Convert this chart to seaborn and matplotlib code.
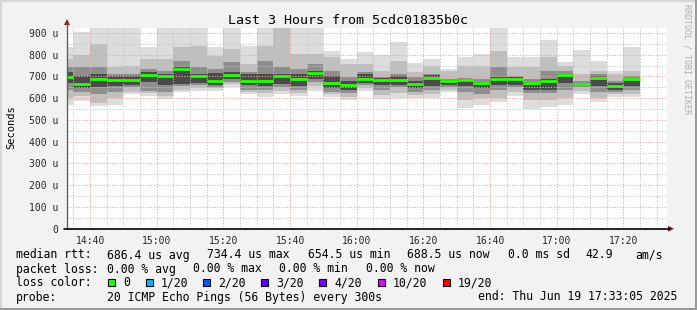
import numpy as np
import pandas as pd
import matplotlib
matplotlib.use("Agg")
import matplotlib.pyplot as plt
import seaborn as sns
from matplotlib.patches import Rectangle, Polygon
from matplotlib.lines import Line2D

# ---------------- data ----------------
bar_start = ["14:30", "14:35", "14:40", "14:45", "14:50", "14:55", "15:00", "15:05",
             "15:10", "15:15", "15:20", "15:25", "15:30", "15:35", "15:40", "15:45",
             "15:50", "15:55", "16:00", "16:05", "16:10", "16:15", "16:20", "16:25",
             "16:30", "16:35", "16:40", "16:45", "16:50", "16:55", "17:00", "17:05",
             "17:10", "17:15", "17:20"]
median = [696, 665, 688, 684, 686, 709, 702, 734, 703, 681, 706, 681, 681, 700, 689, 716,
          671, 661, 689, 686, 685, 665, 694, 678, 684, 668, 687, 687, 668, 681, 706, 664,
          692, 655, 688]
outer_lo = [569, 587, 566, 570, 619, 612, 596, 627, 635, 635, 650, 619, 604, 619, 608, 635,
            604, 592, 632, 598, 602, 600, 602, 628, 555, 570, 584, 608, 550, 558, 570, 618,
            581, 604, 604]
outer_hi = [837, 905, 935, 935, 935, 834, 935, 935, 935, 834, 935, 842, 935, 935, 935, 935,
            819, 780, 811, 801, 857, 764, 782, 735, 790, 805, 935, 788, 788, 868, 765, 822,
            772, 726, 837]
b1_lo = [600, 612, 580, 600, 630, 625, 610, 640, 647, 645, 665, 630, 625, 635, 625, 655,
         620, 605, 645, 615, 625, 615, 620, 640, 590, 600, 600, 630, 590, 590, 600, 635,
         600, 618, 620]
b1_hi = [780, 800, 849, 742, 750, 780, 780, 834, 842, 796, 827, 757, 842, 925, 803, 803,
         788, 757, 757, 727, 773, 719, 750, 727, 750, 750, 819, 742, 742, 790, 750, 711,
         727, 711, 727]
b2_lo = [640, 630, 620, 630, 650, 635, 630, 655, 660, 650, 675, 640, 640, 650, 640, 675,
         630, 622, 660, 640, 650, 630, 640, 650, 630, 620, 640, 650, 625, 625, 640, 650,
         630, 630, 640]
b2_hi = [745, 742, 742, 711, 711, 735, 727, 773, 742, 735, 765, 719, 773, 742, 733, 757,
         727, 696, 719, 696, 711, 696, 711, 690, 695, 690, 742, 704, 690, 727, 725, 681,
         712, 681, 704]
core_lo = [670, 645, 650, 655, 660, 675, 660, 665, 670, 660, 690, 660, 655, 665, 655, 690,
           645, 640, 670, 660, 660, 645, 655, 660, 655, 645, 660, 660, 640, 640, 670, 655,
           655, 640, 655]
core_hi = [720, 700, 711, 700, 700, 720, 711, 742, 711, 715, 719, 711, 711, 711, 711, 727,
           700, 680, 711, 695, 700, 681, 705, 685, 690, 675, 696, 696, 675, 690, 712, 672,
           700, 670, 695]

x_tick_labels = ["14:40", "15:00", "15:20", "15:40", "16:00", "16:20", "16:40", "17:00", "17:20"]
y_tick_values = [0, 100, 200, 300, 400, 500, 600, 700, 800, 900]
y_tick_labels = ["0", "100 u", "200 u", "300 u", "400 u", "500 u", "600 u", "700 u", "800 u", "900 u"]

title = "Last 3 Hours from 5cdc01835b0c"
ylabel = "Seconds"

loss_colors = ["#26ff00", "#00b8ff", "#0059ff", "#5e00ff", "#7e00ff", "#dd00ff", "#ff0000"]
loss_labels = ["0", "1/20", "2/20", "3/20", "4/20", "10/20", "19/20"]

# ---------------- helpers ----------------
def to_min(s):
    h, m = s.split(":")
    return (int(h) - 14) * 60 + int(m)

xs = np.array([to_min(s) for s in bar_start], float)
step = 5.0
x0, x1 = 33 + 5 / 60, 213 + 5 / 60

sns.set_style("white")
plt.rcParams["font.family"] = ["DejaVu Sans Mono"]

W, H = 697, 310
fig = plt.figure(figsize=(W / 100, H / 100), dpi=100, facecolor="#f2f2f2")
top_px, bot_px, left_px, right_px = 28.0, 228.7, 67.0, 667.0
ax = fig.add_axes([left_px / W, 1 - bot_px / H, (right_px - left_px) / W, (bot_px - top_px) / H])
ax.set_facecolor("white")
ax.set_xlim(x0, x1)
ax.set_ylim(0, 923)

# smoke bands (outer -> core)
bands = [(outer_lo, outer_hi, "#dddddd"), (b1_lo, b1_hi, "#bfbfbf"),
         (b2_lo, b2_hi, "#8e8e8e"), (core_lo, core_hi, "#4a4a4a")]
for lo, hi, col in bands:
    lo = np.array(lo, float); hi = np.array(hi, float)
    ax.bar(xs, hi - lo, bottom=lo, width=step, align="edge", color=col, linewidth=0, zorder=1)

# grid on top of smoke
for m in np.arange(35, 213, 5):
    if m % 20 == 0:
        continue
    ax.axvline(m, color="#c4c4c4", lw=0.8, ls=(0, (1, 1.5)), zorder=2)
for v in range(50, 900, 100):
    ax.axhline(v, color="#c4c4c4", lw=0.8, ls=(0, (1, 1.5)), zorder=2)
xt = [to_min(s) for s in x_tick_labels]
for m in xt:
    ax.axvline(m, color="#f2a0a0", lw=0.8, ls=(0, (1, 1.5)), zorder=2)
for v in y_tick_values[1:]:
    ax.axhline(v, color="#f2a0a0", lw=0.8, ls=(0, (1, 1.5)), zorder=2)

# medians through seaborn
rows = []
for i, (s, m) in enumerate(zip(xs, median)):
    rows.append({"bar": i, "x": s, "median": m})
    rows.append({"bar": i, "x": s + step, "median": m})
df = pd.DataFrame(rows)
sns.lineplot(data=df, x="x", y="median", units="bar", estimator=None, color=loss_colors[0],
             lw=2.0, solid_capstyle="butt", ax=ax, legend=False, zorder=4)

ax.set_xlabel("")
ax.set_ylabel("")
ax.set_xticks(xt)
ax.set_xticklabels(x_tick_labels, fontsize=7)
ax.set_yticks(y_tick_values)
ax.set_yticklabels(y_tick_labels, fontsize=7)
ax.tick_params(axis="y", length=3, width=0.8, color="#555555", pad=3, direction="out")
ax.tick_params(axis="x", length=2, width=0.8, color="#555555", pad=3, direction="out")
for sp in ax.spines.values():
    sp.set_visible(False)

# overlay for frame, arrows and legend text
ov = fig.add_axes([0, 0, 1, 1], facecolor="none")
ov.set_xlim(0, W)
ov.set_ylim(H, 0)
ov.axis("off")

# figure frame
ov.add_line(Line2D([0.5, W - 1.5], [1, 1], color="#d6d6d6", lw=1.5))
ov.add_line(Line2D([1, 1], [0.5, H - 1.5], color="#d6d6d6", lw=1.5))
ov.add_line(Line2D([0, W], [H - 1.2, H - 1.2], color="#9a9a9a", lw=2.2))
ov.add_line(Line2D([W - 1.2, W - 1.2], [0, H], color="#9a9a9a", lw=2.2))

# axes lines and arrows
ov.add_line(Line2D([left_px, left_px], [bot_px, 22], color="#606060", lw=1.0))
ov.add_line(Line2D([left_px - 3, 670], [bot_px, bot_px], color="black", lw=1.2))
ov.add_patch(Polygon([[left_px - 3, 25], [left_px + 3, 25], [left_px, 19]], closed=True,
                     color="#8b1a1a", lw=0))
ov.add_patch(Polygon([[668, bot_px - 3], [668, bot_px + 3], [674, bot_px]], closed=True,
                     color="#8b1a1a", lw=0))

# title, ylabel, watermark
ov.text(347.5, 24, title, fontsize=9.6, ha="center", va="baseline", color="black")
ov.text(11, 127, ylabel, fontsize=7.5, rotation=90, ha="center", va="center", color="black")
ov.text(687, 4, "RRDTOOL / TOBI OETIKER", fontsize=6, rotation=270, ha="center", va="top",
        color="#adadad")

fs = 8.3
line1 = [(16, "median rtt:"), (107.3, "686.4 us avg"), (207.3, "734.4 us max"),
         (308, "654.5 us min"), (406.7, "688.5 us now"), (507.7, "0.0 ms sd"),
         (585, "42.9"), (635, "am/s")]
line2 = [(16, "packet loss:"), (107.3, "0.00 % avg"), (193.3, "0.00 % max"),
         (279.3, "0.00 % min"), (366.5, "0.00 % now")]
line4 = [(16, "probe:"), (107.3, "20 ICMP Echo Pings (56 Bytes) every 300s"),
         (478.3, "end: Thu Jun 19 17:33:05 2025")]
for yb, items in [(258.5, line1), (272.5, line2), (300.5, line4)]:
    for xp, t in items:
        ov.text(xp, yb, t, fontsize=fs, ha="left", va="baseline", color="black")

ov.text(16, 286.5, "loss color:", fontsize=fs, ha="left", va="baseline", color="black")
box_x = [108.3, 145.7, 203.3, 261.0, 319.3, 377.7, 442.7]
for bx, col, lab in zip(box_x, loss_colors, loss_labels):
    ov.add_patch(Rectangle((bx, 279), 7, 7, facecolor=col, edgecolor="black", lw=0.8))
    ov.text(bx + 15, 286.5, lab, fontsize=fs, ha="left", va="baseline", color="black")

fig.savefig("out.png", dpi=100, facecolor=fig.get_facecolor())
